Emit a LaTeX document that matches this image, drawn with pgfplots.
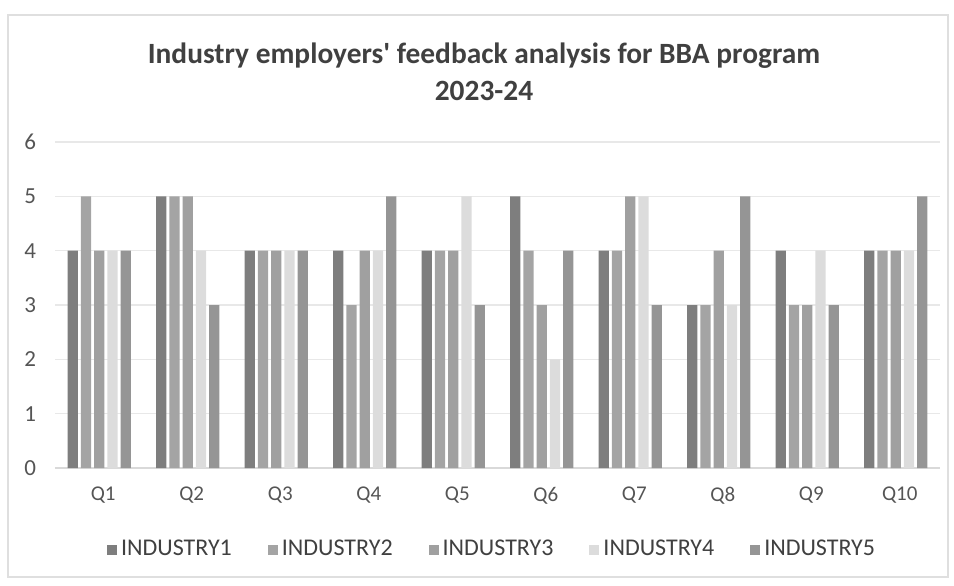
\documentclass[border=0pt]{standalone}
\usepackage{pgfplots}
\pgfplotsset{compat=1.18}
\usepackage{fontspec}
\setmainfont{Carlito}
\definecolor{ind1}{HTML}{7E7E7E}
\definecolor{ind2}{HTML}{A4A4A4}
\definecolor{ind3}{HTML}{A0A0A0}
\definecolor{ind4}{HTML}{DCDCDC}
\definecolor{ind5}{HTML}{959595}
\definecolor{txt}{HTML}{555555}
\definecolor{ttl}{HTML}{404040}
\begin{document}
\begin{tikzpicture}
\path[use as bounding box] (-27.5pt,-58.5pt) rectangle (449.5pt,234pt);
\draw[gray!25, line width=0.8pt] (-23.5pt,-54.5pt) rectangle (446.5pt,226.5pt);
\begin{axis}[
  at={(0,0)}, anchor=south west,
  scale only axis, width=442.5pt, height=163pt,
  xmin=-0.5, xmax=9.5, ymin=0, ymax=6,
  ytick={0,1,2,3,4,5,6},
  xtick={0,...,9},
  xticklabels={Q1,Q2,Q3,Q4,Q5,Q6,Q7,Q8,Q9,Q10},
  major tick length=0pt,
  axis line style={draw=none},
  ymajorgrids, grid style={gray!18, line width=0.8pt},
  tick label style={font=\fontsize{10.5}{12}\selectfont, text=txt},
  yticklabel style={xshift=-6pt, font=\fontsize{11.5}{13}\selectfont},
  xticklabel style={yshift=-6pt, xshift=2pt},
  /pgf/number format/assume math mode=true,
  ybar, bar width=0.115,
  legend style={at={(0.495,-0.25)}, anchor=center, draw=none, legend columns=5,
    font=\fontsize{12}{14}\selectfont, text=ttl,
    /tikz/every even column/.append style={column sep=16pt}},
  legend image code/.code={\fill[#1] (0pt,-2.5pt) rectangle (5pt,2.5pt);},
  every axis plot/.append style={draw=none},
  clip=false,
]
\draw[gray!30, line width=0.8pt] (axis cs:-0.5,0) -- (axis cs:9.5,0);
\addplot[fill=ind1, bar shift=-0.30] coordinates {(0,4) (1,5) (2,4) (3,4) (4,4) (5,5) (6,4) (7,3) (8,4) (9,4)};
\addplot[fill=ind2, bar shift=-0.15] coordinates {(0,5) (1,5) (2,4) (3,3) (4,4) (5,4) (6,4) (7,3) (8,3) (9,4)};
\addplot[fill=ind3, bar shift=0] coordinates {(0,4) (1,5) (2,4) (3,4) (4,4) (5,3) (6,5) (7,4) (8,3) (9,4)};
\addplot[fill=ind4, bar shift=0.15] coordinates {(0,4) (1,4) (2,4) (3,4) (4,5) (5,2) (6,5) (7,3) (8,4) (9,4)};
\addplot[fill=ind5, bar shift=0.30] coordinates {(0,4) (1,3) (2,4) (3,5) (4,3) (5,4) (6,3) (7,5) (8,3) (9,5)};
\legend{INDUSTRY1,INDUSTRY2,INDUSTRY3,INDUSTRY4,INDUSTRY5}
\end{axis}
\node[align=center, font=\bfseries\fontsize{14.7}{18.5}\selectfont, text=ttl] at (214.5pt,198pt)
  {Industry employers\textquotesingle\ feedback analysis for BBA program\\2023-24};
\end{tikzpicture}
\end{document}
